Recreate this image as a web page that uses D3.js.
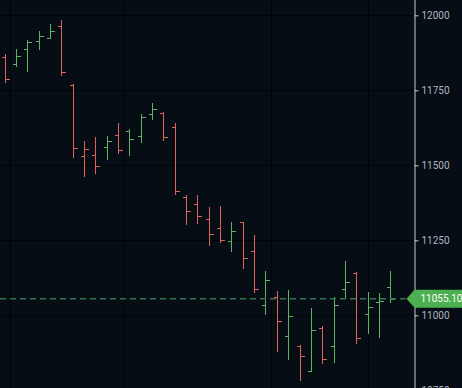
<!DOCTYPE html>
<html>
<head>
<meta charset="utf-8">
<script src="https://cdn.jsdelivr.net/npm/d3@7"></script>
<style>
  html, body { margin: 0; padding: 0; background: #070d15; overflow: hidden; }
  svg { display: block; }
</style>
</head>
<body>
<div id="chart"></div>
<script>
// daily OHLC values
const opens  = [11860, 11837, 11888, 11914, 11925, 11965, 11768, 11530, 11533, 11560,
                11600, 11613, 11597, 11670, 11673, 11627, 11393, 11371, 11321, 11291,
                11248, 11310, 11214, 11034, 11060, 10931, 10899, 10815, 10958, 10899,
                11087, 11140, 11003, 11043, 11093];
const highs  = [11870, 11887, 11918, 11948, 11970, 11983, 11771, 11582, 11595, 11599,
                11640, 11620, 11670, 11707, 11679, 11642, 11401, 11401, 11362, 11364,
                11311, 11312, 11269, 11148, 11081, 11085, 10900, 11023, 10963, 11060,
                11182, 11145, 11079, 11073, 11149];
const lows   = [11773, 11829, 11812, 11883, 11921, 11797, 11523, 11460, 11472, 11517,
                11537, 11530, 11573, 11650, 11581, 11401, 11301, 11305, 11231, 11240,
                11210, 11153, 11075, 11000, 10879, 10850, 10781, 10815, 10837, 10842,
                11057, 10903, 10938, 10923, 11040];
const closes = [11787, 11863, 11910, 11930, 11948, 11810, 11557, 11553, 11498, 11580,
                11550, 11588, 11660, 11687, 11595, 11415, 11347, 11330, 11270, 11250,
                11282, 11190, 11088, 11118, 10980, 10997, 10864, 10950, 10855, 11034,
                11110, 10925, 11029, 11047, 11055.10];
const prevClose = 11830; // close of the bar before the first one shown

const priceTicks = [10750, 11000, 11250, 11500, 11750, 12000];
const timeGrid = [0.5, 10.5, 23.5, 32]; // vertical grid, in bar units
const lastPrice = closes[closes.length - 1];

const width = 462, height = 388;
const axisX = 414.5;

const bars = opens.map((o, i) => ({
  i: i, open: o, high: highs[i], low: lows[i], close: closes[i],
  up: closes[i] >= (i === 0 ? prevClose : closes[i - 1])
}));

const upColor = "#5cb660", downColor = "#e0625a";

const svg = d3.select("#chart").append("svg")
  .attr("width", width)
  .attr("height", height);

svg.append("rect")
  .attr("width", width).attr("height", height)
  .attr("fill", "#070d15");

const x = d3.scaleLinear().domain([0, opens.length - 1]).range([4.5, 390.3]);
const y = d3.scaleLinear().domain([10750, 12000]).range([390.3, 15.3]);

// grid
const grid = svg.append("g").attr("stroke", "#010305").attr("stroke-width", 1);
grid.selectAll(".hg")
  .data(priceTicks)
  .join("line")
    .attr("x1", 0).attr("x2", axisX)
    .attr("y1", d => Math.round(y(d)) + 0.5)
    .attr("y2", d => Math.round(y(d)) + 0.5);
grid.selectAll(".vg")
  .data(timeGrid)
  .join("line")
    .attr("x1", d => Math.round(x(d)) + 0.5)
    .attr("x2", d => Math.round(x(d)) + 0.5)
    .attr("y1", 0).attr("y2", height);

// OHLC bars
const g = svg.append("g")
  .attr("shape-rendering", "crispEdges")
  .selectAll("g")
  .data(bars)
  .join("g")
    .attr("stroke", d => d.up ? upColor : downColor)
    .attr("stroke-width", 1);

g.append("line")
  .attr("x1", d => Math.round(x(d.i)) + 0.5)
  .attr("x2", d => Math.round(x(d.i)) + 0.5)
  .attr("y1", d => y(d.high))
  .attr("y2", d => y(d.low));
g.append("line")
  .attr("x1", d => Math.round(x(d.i)) - 3.5)
  .attr("x2", d => Math.round(x(d.i)) + 0.5)
  .attr("y1", d => Math.round(y(d.open)) + 0.5)
  .attr("y2", d => Math.round(y(d.open)) + 0.5);
g.append("line")
  .attr("x1", d => Math.round(x(d.i)) + 0.5)
  .attr("x2", d => Math.round(x(d.i)) + 4.5)
  .attr("y1", d => Math.round(y(d.close)) + 0.5)
  .attr("y2", d => Math.round(y(d.close)) + 0.5);

// last price line
svg.append("line")
  .attr("x1", 0).attr("x2", axisX)
  .attr("y1", y(lastPrice)).attr("y2", y(lastPrice))
  .attr("stroke", "#36704a")
  .attr("stroke-width", 1.5)
  .attr("stroke-dasharray", "6,4");

// price axis on the right
const axis = svg.append("g")
  .attr("transform", `translate(${axisX},0)`)
  .call(d3.axisRight(y).tickValues(priceTicks).tickSize(4).tickPadding(3).tickFormat(d3.format("d")));
axis.select(".domain").attr("stroke", "#c8cbd2").attr("d", `M0.5,0V${height}`);
axis.selectAll(".tick line").attr("stroke", "#c8cbd2");
axis.selectAll(".tick text")
  .attr("fill", "#b2b5be")
  .attr("font-family", "Roboto, 'Liberation Sans', sans-serif")
  .attr("font-size", 10);

// last price label
const ly = y(lastPrice);
svg.append("path")
  .attr("d", `M${axisX - 8},${ly} L${axisX},${ly - 9} H${width} V${ly + 9} H${axisX} Z`)
  .attr("fill", "#4caf50");
svg.append("text")
  .attr("x", axisX + 6)
  .attr("y", ly)
  .attr("dy", "0.35em")
  .attr("fill", "#ffffff")
  .attr("font-family", "Roboto, 'Liberation Sans', sans-serif")
  .attr("font-size", 10)
  .text(d3.format(".2f")(lastPrice));
</script>
</body>
</html>
